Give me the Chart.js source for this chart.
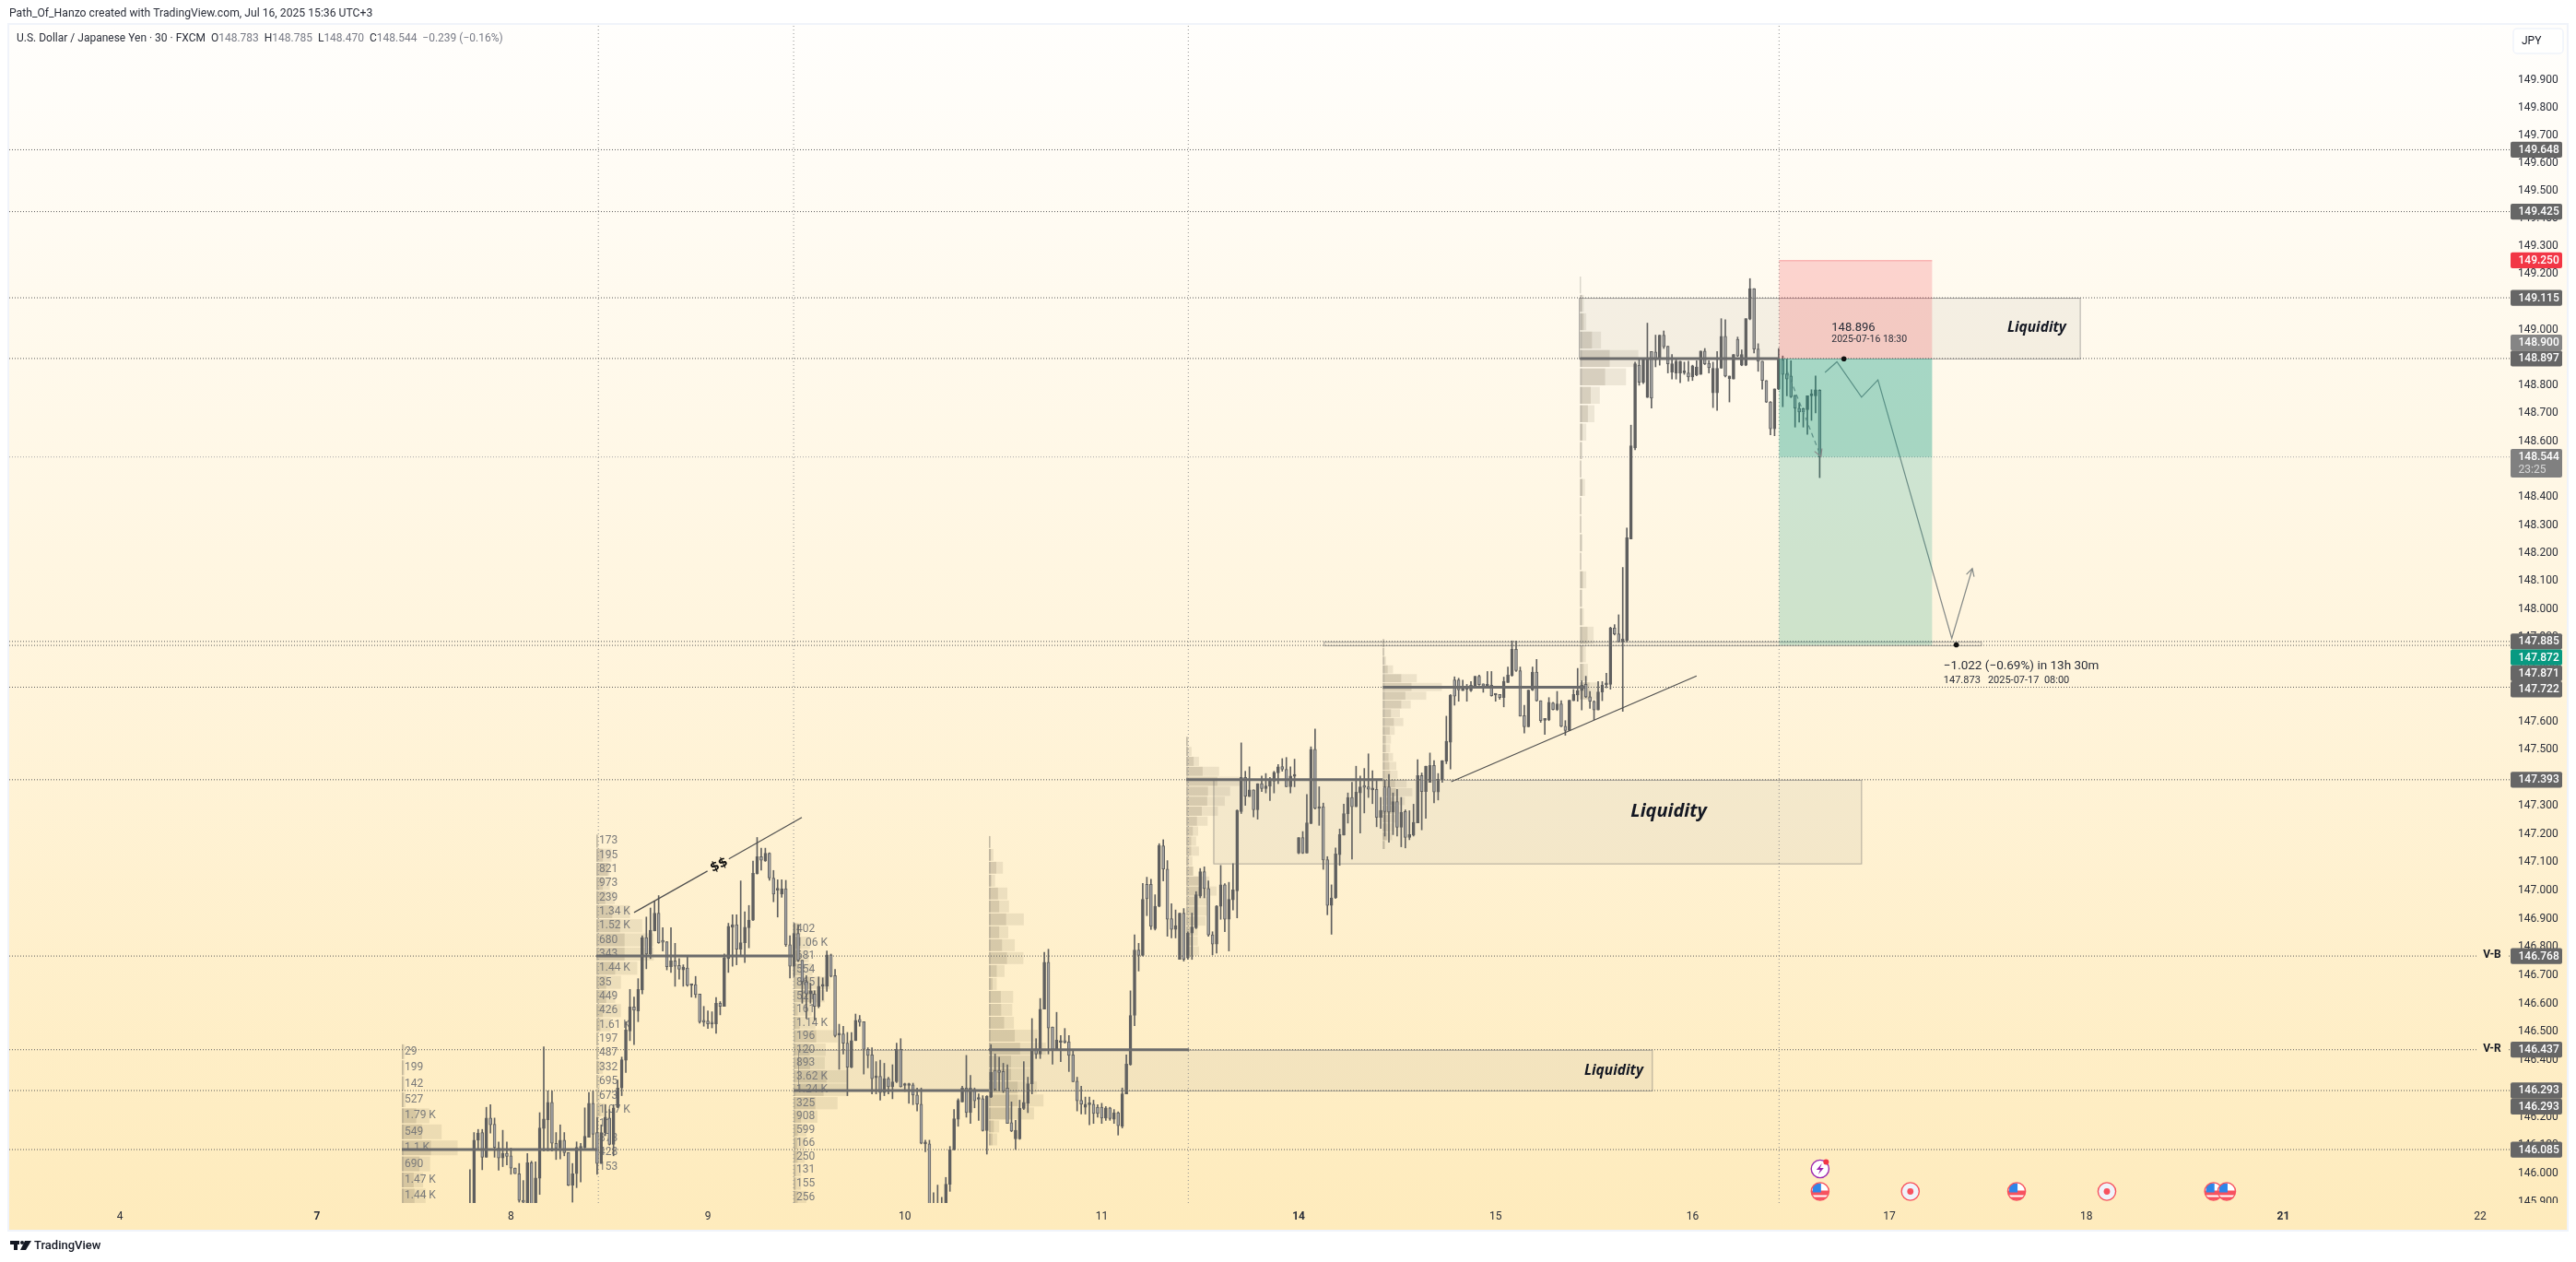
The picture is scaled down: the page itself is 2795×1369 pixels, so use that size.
<!DOCTYPE html>
<html>
<head>
<meta charset="utf-8">
<style>
    body { margin: 0; background: #fff; }
    canvas { display: block; }
</style>
<script src="https://cdn.jsdelivr.net/npm/chart.js@4.4.0/dist/chart.umd.min.js"></script>
</head>
<body>
<canvas id="chart" width="2795" height="1369"></canvas>
<script>
// x values are 30 minute bars counted from the "4" tick, 48 bars to a day
const firstBar = 86;
const dayLabels = ['4', '7', '8', '9', '10', '11', '14', '15', '16', '17', '18', '21', '22'];
const dayBars = [0.7, 48.7, 96, 144, 192, 240, 288, 336, 384, 432, 480, 528, 576];
const boldDays = ['7', '14', '21'];
const priceTicks = [145.9, 146, 146.1, 146.2, 146.3, 146.4, 146.5, 146.6, 146.7, 146.8, 146.9, 147, 147.1, 147.2, 147.3, 147.4, 147.5, 147.6, 147.7, 147.8, 147.9, 148, 148.1, 148.2, 148.3, 148.4, 148.5, 148.6, 148.7, 148.8, 148.9, 149, 149.1, 149.2, 149.3, 149.4, 149.5, 149.6, 149.7, 149.8, 149.9];

const opens = [
    145.86, 145.86, 146.118, 146.145, 146.058, 146.196, 146.174, 146.09, 146.055, 146.072,
    146.063, 146.02, 146.0, 145.906, 145.88, 146.039, 145.88, 145.984, 146.159, 146.19,
    146.251, 146.107, 146.09, 146.118, 146.074, 145.96, 146.0, 146.09, 146.093, 146.128,
    146.248, 146.145, 146.036, 146.145, 146.196, 146.103, 146.234, 146.302, 146.4, 146.503,
    146.588, 146.574, 146.648, 146.833, 146.775, 146.857, 146.92, 146.819, 146.819, 146.73,
    146.751, 146.735, 146.719, 146.726, 146.664, 146.667, 146.634, 146.538, 146.538, 146.53,
    146.528, 146.601, 146.59, 146.759, 146.87, 146.879, 146.792, 146.815, 146.868, 146.895,
    147.06, 147.12, 147.105, 147.132, 147.044, 147.001, 146.987, 147.006, 146.808, 146.732,
    146.848, 146.753, 146.677, 146.634, 146.634, 146.59, 146.661, 146.661, 146.772, 146.699,
    146.489, 146.493, 146.46, 146.375, 146.469, 146.544, 146.536, 146.438, 146.419, 146.338,
    146.343, 146.286, 146.335, 146.306, 146.324, 146.438, 146.311, 146.311, 146.313, 146.277,
    146.245, 146.105, 146.105, 145.88, 145.85, 145.87, 145.88, 145.963, 146.085, 146.192,
    146.253, 146.302, 146.215, 146.297, 146.262, 146.264, 146.152, 146.27, 146.364, 146.364,
    146.36, 146.302, 146.18, 146.123, 146.123, 146.23, 146.248, 146.317, 146.44, 146.422,
    146.58, 146.746, 146.517, 146.438, 146.463, 146.469, 146.465, 146.419, 146.326, 146.259,
    146.234, 146.243, 146.245, 146.234, 146.234, 146.196, 146.232, 146.192, 146.215, 146.167,
    146.281, 146.384, 146.558, 146.789, 146.77, 147.022, 147.022, 146.865, 146.944, 147.158,
    147.076, 146.9, 146.862, 146.756, 146.92, 146.761, 146.849, 146.868, 146.98, 147.067,
    147.007, 146.843, 146.81, 146.944, 147.02, 146.898, 146.967, 146.999, 147.28, 147.401,
    147.333, 147.357, 147.286, 147.379, 147.362, 147.37, 147.388, 147.417, 147.44, 147.43,
    147.368, 147.405, 147.133, 147.188, 147.133, 147.237, 147.501, 147.291, 147.297, 147.109,
    146.947, 146.974, 147.127, 147.196, 147.272, 147.33, 147.297, 147.346, 147.368, 147.368,
    147.357, 147.359, 147.259, 147.368, 147.368, 147.278, 147.315, 147.224, 147.28, 147.188,
    147.196, 147.24, 147.408, 147.351, 147.384, 147.444, 147.349, 147.393, 147.459, 147.526,
    147.748, 147.748, 147.71, 147.715, 147.71, 147.726, 147.761, 147.734, 147.726, 147.729,
    147.694, 147.696, 147.685, 147.739, 147.764, 147.857, 147.781, 147.621, 147.581, 147.712,
    147.776, 147.674, 147.604, 147.606, 147.666, 147.643, 147.663, 147.583, 147.568, 147.674,
    147.694, 147.71, 147.732, 147.688, 147.672, 147.641, 147.705, 147.731, 147.732, 147.933,
    147.912, 147.883, 147.888, 148.251, 148.576, 148.873, 148.812, 148.757, 148.922, 148.92,
    148.895, 148.981, 148.941, 148.848, 148.845, 148.845, 148.846, 148.845, 148.831, 148.838,
    148.84, 148.924, 148.88, 148.774, 148.774, 148.862, 148.977, 148.825, 148.823, 148.966,
    148.873, 148.873, 149.038, 149.148, 148.931, 148.887, 148.818, 148.741, 148.645, 148.787,
    148.893, 148.842, 148.834, 148.765, 148.719, 148.717, 148.713, 148.763, 148.763, 148.783
];
const highs = [
    146.014, 146.145, 146.156, 146.156, 146.234, 146.243, 146.196, 146.112, 146.153, 146.112,
    146.09, 146.02, 146.036, 145.976, 146.071, 146.044, 146.042, 146.215, 146.447, 146.292,
    146.292, 146.145, 146.172, 146.145, 146.074, 146.036, 146.112, 146.107, 146.232, 146.286,
    146.292, 146.199, 146.172, 146.243, 146.226, 146.243, 146.33, 146.411, 146.536, 146.65,
    146.623, 146.688, 146.84, 146.906, 146.938, 146.963, 146.982, 146.868, 146.819, 146.868,
    146.813, 146.759, 146.737, 146.767, 146.667, 146.696, 146.634, 146.59, 146.574, 146.571,
    146.621, 146.607, 146.775, 146.884, 146.914, 146.914, 147.034, 146.925, 146.947, 147.104,
    147.188, 147.15, 147.15, 147.134, 147.071, 147.038, 147.038, 147.036, 146.84, 146.884,
    146.879, 146.753, 146.699, 146.672, 146.645, 146.694, 146.691, 146.786, 146.775, 146.721,
    146.527, 146.52, 146.498, 146.498, 146.563, 146.558, 146.536, 146.444, 146.444, 146.395,
    146.4, 146.389, 146.34, 146.384, 146.46, 146.476, 146.319, 146.319, 146.319, 146.302,
    146.302, 146.118, 146.118, 145.933, 145.96, 145.917, 145.987, 146.096, 146.226, 146.264,
    146.308, 146.417, 146.346, 146.302, 146.281, 146.275, 146.275, 146.455, 146.422, 146.411,
    146.389, 146.384, 146.253, 146.188, 146.259, 146.395, 146.34, 146.547, 146.476, 146.618,
    146.781, 146.792, 146.517, 146.569, 146.487, 146.512, 146.487, 146.433, 146.34, 146.308,
    146.27, 146.27, 146.259, 146.243, 146.248, 146.237, 146.234, 146.226, 146.218, 146.302,
    146.419, 146.645, 146.843, 146.813, 147.025, 147.047, 147.04, 146.985, 147.166, 147.18,
    147.106, 146.953, 146.931, 146.92, 146.936, 146.854, 146.92, 146.996, 147.078, 147.084,
    147.034, 146.854, 146.947, 147.089, 147.024, 147.029, 147.095, 147.286, 147.524, 147.423,
    147.439, 147.357, 147.379, 147.406, 147.415, 147.401, 147.423, 147.447, 147.468, 147.472,
    147.439, 147.466, 147.188, 147.209, 147.341, 147.51, 147.573, 147.368, 147.31, 147.12,
    147.02, 147.151, 147.218, 147.306, 147.346, 147.384, 147.441, 147.406, 147.433, 147.485,
    147.425, 147.39, 147.33, 147.392, 147.412, 147.346, 147.359, 147.33, 147.286, 147.283,
    147.306, 147.464, 147.417, 147.441, 147.488, 147.461, 147.415, 147.461, 147.619, 147.696,
    147.759, 147.754, 147.747, 147.732, 147.742, 147.761, 147.765, 147.734, 147.778, 147.778,
    147.696, 147.696, 147.758, 147.794, 147.887, 147.887, 147.794, 147.658, 147.712, 147.794,
    147.821, 147.674, 147.608, 147.685, 147.668, 147.707, 147.674, 147.603, 147.676, 147.714,
    147.789, 147.745, 147.761, 147.707, 147.674, 147.742, 147.742, 147.772, 147.936, 147.945,
    147.98, 148.149, 148.29, 148.658, 148.884, 148.895, 148.895, 149.024, 148.922, 148.981,
    148.981, 148.996, 148.941, 148.911, 148.895, 148.887, 148.884, 148.887, 148.873, 148.889,
    148.924, 148.933, 148.889, 148.884, 148.922, 149.04, 149.036, 148.834, 148.911, 148.974,
    148.928, 149.04, 149.184, 149.148, 148.95, 148.887, 148.818, 148.743, 148.788, 148.933,
    148.906, 148.895, 148.889, 148.765, 148.738, 148.719, 148.763, 148.785, 148.834, 148.785
];
const lows = [
    145.84, 145.84, 146.085, 146.014, 146.058, 146.143, 146.058, 146.012, 146.025, 146.031,
    145.998, 146.0, 145.9, 145.88, 145.86, 145.86, 145.86, 145.927, 146.08, 146.08,
    146.08, 146.05, 146.052, 146.063, 145.958, 145.9, 145.951, 145.971, 146.09, 146.128,
    146.085, 145.998, 146.036, 146.134, 146.101, 146.063, 146.232, 146.275, 146.357, 146.469,
    146.455, 146.536, 146.634, 146.723, 146.759, 146.857, 146.813, 146.786, 146.719, 146.71,
    146.661, 146.686, 146.661, 146.661, 146.623, 146.621, 146.531, 146.52, 146.512, 146.514,
    146.495, 146.56, 146.59, 146.71, 146.732, 146.737, 146.77, 146.745, 146.797, 146.893,
    147.058, 147.072, 147.103, 147.036, 146.96, 146.906, 146.976, 146.802, 146.69, 146.695,
    146.748, 146.601, 146.547, 146.601, 146.542, 146.585, 146.612, 146.643, 146.694, 146.482,
    146.368, 146.422, 146.275, 146.373, 146.469, 146.52, 146.351, 146.373, 146.281, 146.281,
    146.259, 146.275, 146.281, 146.264, 146.321, 146.305, 146.29, 146.248, 146.243, 146.221,
    146.105, 146.077, 145.85, 145.83, 145.83, 145.85, 145.86, 145.938, 146.083, 146.167,
    146.253, 146.199, 146.177, 146.232, 146.188, 146.15, 146.069, 146.268, 146.292, 146.292,
    146.286, 146.177, 146.148, 146.085, 146.121, 146.226, 146.215, 146.281, 146.406, 146.406,
    146.58, 146.422, 146.386, 146.438, 146.395, 146.46, 146.36, 146.324, 146.221, 146.21,
    146.21, 146.172, 146.177, 146.199, 146.177, 146.188, 146.188, 146.177, 146.136, 146.161,
    146.281, 146.382, 146.522, 146.715, 146.768, 146.911, 146.862, 146.86, 146.942, 147.034,
    146.838, 146.832, 146.832, 146.756, 146.75, 146.756, 146.756, 146.865, 146.974, 146.974,
    146.838, 146.772, 146.778, 146.898, 146.854, 146.786, 146.931, 146.903, 147.273, 147.302,
    147.333, 147.261, 147.253, 147.351, 147.346, 147.319, 147.346, 147.379, 147.423, 147.368,
    147.346, 147.368, 147.13, 147.131, 147.133, 147.237, 147.289, 147.231, 147.075, 146.914,
    146.845, 146.972, 147.089, 147.196, 147.239, 147.111, 147.297, 147.204, 147.275, 147.33,
    147.308, 147.226, 147.22, 147.193, 147.171, 147.198, 147.193, 147.155, 147.151, 147.18,
    147.193, 147.24, 147.215, 147.256, 147.384, 147.311, 147.321, 147.384, 147.45, 147.431,
    147.658, 147.672, 147.71, 147.672, 147.707, 147.723, 147.729, 147.704, 147.726, 147.69,
    147.672, 147.679, 147.652, 147.739, 147.761, 147.778, 147.619, 147.559, 147.581, 147.71,
    147.672, 147.597, 147.554, 147.603, 147.641, 147.639, 147.581, 147.551, 147.567, 147.674,
    147.672, 147.641, 147.685, 147.647, 147.606, 147.641, 147.674, 147.72, 147.715, 147.908,
    147.883, 147.636, 147.883, 148.251, 148.57, 148.801, 148.807, 148.757, 148.719, 148.867,
    148.873, 148.933, 148.845, 148.823, 148.823, 148.81, 148.84, 148.816, 148.818, 148.835,
    148.84, 148.875, 148.845, 148.721, 148.711, 148.862, 148.831, 148.741, 148.823, 148.904,
    148.871, 148.871, 149.036, 148.917, 148.851, 148.787, 148.739, 148.623, 148.62, 148.785,
    148.724, 148.763, 148.757, 148.651, 148.669, 148.651, 148.625, 148.675, 148.702, 148.47
];
const closes = [
    145.88, 146.118, 146.143, 146.058, 146.196, 146.172, 146.093, 146.055, 146.072, 146.061,
    146.02, 146.0, 145.906, 145.9, 146.039, 145.88, 145.985, 146.161, 146.193, 146.251,
    146.107, 146.09, 146.118, 146.074, 145.96, 146.0, 146.093, 146.096, 146.132, 146.248,
    146.139, 146.036, 146.145, 146.199, 146.103, 146.232, 146.302, 146.402, 146.507, 146.588,
    146.576, 146.65, 146.833, 146.775, 146.859, 146.92, 146.815, 146.817, 146.73, 146.751,
    146.732, 146.721, 146.729, 146.664, 146.667, 146.632, 146.536, 146.534, 146.528, 146.528,
    146.601, 146.59, 146.761, 146.873, 146.879, 146.792, 146.815, 146.87, 146.895, 147.061,
    147.12, 147.107, 147.132, 147.044, 146.987, 147.003, 147.006, 146.808, 146.732, 146.848,
    146.753, 146.677, 146.634, 146.645, 146.59, 146.661, 146.667, 146.772, 146.696, 146.487,
    146.493, 146.46, 146.375, 146.469, 146.541, 146.534, 146.438, 146.417, 146.335, 146.343,
    146.286, 146.335, 146.306, 146.324, 146.438, 146.306, 146.313, 146.313, 146.277, 146.245,
    146.107, 146.107, 145.87, 145.85, 145.88, 145.89, 145.963, 146.085, 146.194, 146.259,
    146.302, 146.215, 146.302, 146.257, 146.264, 146.152, 146.273, 146.357, 146.297, 146.357,
    146.292, 146.177, 146.15, 146.153, 146.23, 146.251, 146.317, 146.438, 146.422, 146.58,
    146.746, 146.514, 146.438, 146.471, 146.469, 146.462, 146.417, 146.324, 146.257, 146.245,
    146.245, 146.245, 146.212, 146.212, 146.196, 146.232, 146.194, 146.215, 146.169, 146.281,
    146.386, 146.558, 146.789, 146.77, 146.969, 146.971, 146.873, 146.944, 147.16, 147.076,
    146.898, 146.862, 146.876, 146.92, 146.756, 146.849, 146.871, 146.985, 147.067, 147.007,
    146.843, 146.81, 146.945, 147.02, 146.898, 146.969, 147.002, 147.284, 147.401, 147.335,
    147.357, 147.286, 147.379, 147.362, 147.371, 147.388, 147.419, 147.439, 147.43, 147.368,
    147.406, 147.407, 147.188, 147.133, 147.24, 147.501, 147.291, 147.297, 147.108, 146.947,
    146.974, 147.13, 147.198, 147.273, 147.33, 147.297, 147.349, 147.368, 147.366, 147.359,
    147.362, 147.259, 147.284, 147.28, 147.278, 147.315, 147.224, 147.278, 147.188, 147.198,
    147.242, 147.408, 147.351, 147.441, 147.444, 147.349, 147.395, 147.461, 147.53, 147.694,
    147.69, 147.712, 147.714, 147.718, 147.729, 147.761, 147.731, 147.726, 147.732, 147.692,
    147.696, 147.685, 147.743, 147.765, 147.857, 147.781, 147.619, 147.581, 147.712, 147.776,
    147.674, 147.603, 147.606, 147.668, 147.643, 147.663, 147.583, 147.568, 147.676, 147.696,
    147.71, 147.729, 147.688, 147.672, 147.641, 147.705, 147.729, 147.733, 147.933, 147.912,
    147.884, 147.894, 148.255, 148.584, 148.878, 148.812, 148.893, 148.895, 148.755, 148.893,
    148.981, 148.939, 148.878, 148.878, 148.887, 148.887, 148.849, 148.831, 148.871, 148.867,
    148.924, 148.878, 148.864, 148.862, 148.862, 148.977, 148.834, 148.834, 148.911, 148.906,
    148.911, 149.04, 149.148, 148.931, 148.887, 148.818, 148.741, 148.645, 148.788, 148.895,
    148.84, 148.823, 148.76, 148.719, 148.705, 148.705, 148.763, 148.765, 148.785, 148.544
];

// horizontal levels and the tags on the price axis
const levelPrices = [149.648, 149.425, 149.115, 148.897, 147.885, 147.871, 147.722, 147.393, 146.768, 146.437, 146.293, 146.085];
const lastPrice = 148.544;
const lastPriceTimer = '23:25';
const tagPrices = [149.648, 149.425, 149.25, 149.115, 148.897, 148.9, 148.544, 147.885, 147.872, 147.871, 147.722, 147.393, 146.768, 146.437, 146.293, 146.293, 146.085];
const tagColors = ['#666', '#666', '#f23645', '#666', '#666', '#858585', '#808080', '#666', '#089981', '#666', '#666', '#666', '#666', '#666', '#666', '#666', '#666'];
const sessionLines = [117.3, 164.9, 261.1, 405.1];

// session volume profiles: row prices start at the top and step down one bin
const profileStarts = [69.4, 116.8, 164.9, 212.5, 260.6, 308.5, 356.6];
const profileTops = [146.43, 147.175, 146.862, 147.172, 147.529, 147.879, 149.161];
const profileSteps = [0.0565, 0.05, 0.0472, 0.0457, 0.0354, 0.0312, 0.066];
const pocPrices = [146.085, 146.768, 146.293, 146.437, 147.393, 147.722, 148.897];
const pocEnds = [117, 164.9, 212.5, 261.3, 308.5, 357.9, 405.1];
const profile0Total = [0.7, 0.7, 0.7, 0.9, 6.7, 9.7, 13.6, 6.9, 5.2, 5.8];
const profile0Up = [0.2, 0.2, 0.2, 0.3, 3.5, 4.9, 7.1, 4.3, 2.9, 3.1];
const profile0Text = ['29', '199', '142', '527', '1.79 K', '549', '1.1 K', '690', '1.47 K', '1.44 K'];
const profile1Total = [0.5, 3.7, 3.2, 3.3, 4.5, 8.2, 11.2, 14, 14, 10, 6, 4.6, 6, 3.5, 0.5, 0.5, 1.6, 0.9, 0.9, 2.4, 0.6, 0.6, 0.6, 0.6];
const profile1Up = [0.2, 1.6, 2.8, 1.6, 2.2, 3.9, 5.8, 6.9, 6.9, 4.6, 2.4, 2.4, 1.6, 1, 0.3, 0.3, 0.6, 0.3, 0.3, 1, 0.3, 0.3, 0.3, 0.3];
const profile1Text = ['173', '195', '821', '973', '239', '1.34 K', '1.52 K', '680', '343', '1.44 K', '35', '449', '426', '1.61 K', '197', '487', '332', '695', '673', '1.07 K', '11', '873', '428', '153'];
const profile2Total = [1.8, 4, 3.7, 4.6, 8.9, 7.6, 4.4, 5.3, 10.7, 7.8, 7.6, 13.3, 13.3, 10.7, 5.8, 3.1, 2.7, 2.7, 1.8, 1.8, 3.1];
const profile2Up = [1.2, 1.8, 1.8, 2.4, 4, 5.3, 1, 1.5, 5.5, 3.9, 4, 8, 7.3, 5.3, 1.8, 1, 0.9, 1, 0.5, 0.5, 1];
const profile2Text = ['402', '1.06 K', '681', '554', '865', '521', '161', '1.14 K', '196', '120', '893', '3.62 K', '1.24 K', '325', '908', '599', '166', '250', '131', '155', '256'];
const profile3Total = [0.4, 1.1, 3.4, 1.5, 4.5, 4.9, 8.5, 4.7, 6.3, 8.4, 3.8, 1.9, 5.9, 5.7, 6.1, 11.9, 13.9, 10.7, 10.7, 11.7, 13.3, 11, 2.5, 2];
const profile3Up = [0.2, 0.5, 1.8, 0.6, 2.2, 2.5, 4.2, 2.5, 3.2, 4.4, 1.9, 0.9, 2.9, 3, 3.7, 6.3, 7.6, 5.4, 5.4, 7, 7, 5.5, 1.2, 0.9];
const profile4Total = [0.5, 1.3, 3.1, 8, 13.5, 10.7, 9.4, 7.7, 5.2, 2.9, 2.4, 3.1, 1.5, 1.8, 5.6, 7.4, 5.2, 5, 4.7, 2.8, 2.8, 3.1];
const profile4Up = [0.2, 0.4, 1.8, 4, 7.6, 5.3, 5.1, 3.8, 2.6, 1.6, 1.2, 1.2, 0.6, 1.6, 3, 3.2, 2.5, 2.5, 2, 1.4, 1.4, 1.4];
const profile5Total = [0.4, 0.4, 0.8, 2.5, 8.3, 14.4, 10.6, 6.8, 4.2, 5, 2.9, 2, 1.8, 2.5, 3.3, 3.6, 5.8, 7.2, 5.4, 4, 3.2, 2.7, 2.3, 0.6];
const profile5Up = [0.2, 0.2, 0.3, 1.2, 4.5, 7, 5.5, 4.5, 2, 2.7, 1.7, 0.8, 0.8, 1.4, 1.6, 1.8, 3, 3.2, 2.6, 2, 1.6, 1.2, 1, 0.3];
const profile6Total = [0.2, 0.9, 1.5, 5.1, 14.2, 11.2, 4.8, 3.5, 1.5, 0.5, 0.3, 1.2, 0.3, 0.3, 0.5, 0.3, 1.5, 0.5, 0.9, 3.3, 1.4, 1.9, 4.7];
const profile6Up = [0.1, 0.4, 0.9, 2.9, 7.2, 6.1, 2.6, 1.9, 0.6, 0.2, 0.15, 0.6, 0.15, 0.15, 0.2, 0.15, 0.7, 0.2, 0.4, 1.8, 0.7, 0.9, 2.3];
const profileTotals = [profile0Total, profile1Total, profile2Total, profile3Total, profile4Total, profile5Total, profile6Total];
const profileUps = [profile0Up, profile1Up, profile2Up, profile3Up, profile4Up, profile5Up, profile6Up];
const profileTexts = [profile0Text, profile1Text, profile2Text];

// drawings, as [bar, price]
const trendA = [[126, 146.922], [143.9, 147.069]];
const trendB = [[149.1, 147.112], [166.9, 147.259]];
const trendC = [[325.2, 147.386], [385, 147.762]];
const forecastPath = [[416.3, 148.847], [419.2, 148.885], [425.2, 148.758], [429.2, 148.82], [447.2, 147.896], [452.2, 148.145]];
const dashedArrow = [[407.1, 148.851], [415.3, 148.545]];
const liquidityBoxes = [[356.3, 478.4, 149.115, 148.897], [267.2, 425.1, 147.393, 147.096], [166, 374.1, 146.437, 146.293], [294.1, 454.3, 147.885, 147.871]];
const shortStart = 405.1, shortEnd = 442.4;
const stopPrice = 149.25, entryPrice = 148.897, targetPrice = 147.872;
const eventBars = [415.1, 437.1, 463, 485, 511, 514.2];
const eventKinds = ['us', 'dot', 'us', 'dot', 'us', 'us'];

const fontFamily = 'Roboto, sans-serif';
const darkCandle = '#5f5f5f';
const lightCandle = '#a5a5a5';

const candleBars = opens.map((_, i) => firstBar + i);

function lineSet(points, color, dash, width, order) {
    return {
        type: 'line',
        data: points.map(p => ({ x: p[0], y: p[1] })),
        borderColor: color,
        borderDash: dash,
        borderWidth: width,
        pointRadius: 0,
        tension: 0,
        order: order
    };
}

const xMin = -26.3, xMax = 583.4, yMin = 145.897, yMax = 150.099;

const datasets = [
    {
        label: 'wicks',
        data: candleBars.map((x, i) => ({ x: x, y: [lows[i], highs[i]] })),
        backgroundColor: darkCandle,
        barThickness: 1,
        grouped: false,
        order: 3
    },
    {
        label: 'bodies',
        data: candleBars.map((x, i) => ({ x: x, y: [opens[i], closes[i]] })),
        backgroundColor: opens.map((o, i) => closes[i] < o ? lightCandle : darkCandle),
        borderColor: darkCandle,
        borderWidth: 1,
        borderSkipped: false,
        barThickness: 3,
        minBarLength: 2,
        grouped: false,
        order: 2
    }
];
levelPrices.forEach(p => datasets.push(lineSet([[xMin, p], [xMax, p]], '#5c5c5c', [1, 2], 1, 5)));
datasets.push(lineSet([[xMin, lastPrice], [xMax, lastPrice]], '#a8a8a8', [1, 2], 1, 5));
sessionLines.forEach(x => datasets.push(lineSet([[x, yMin], [x, yMax]], '#8f8f8f', [1, 3], 1, 5)));
pocPrices.forEach((p, i) => datasets.push(lineSet([[profileStarts[i], p], [pocEnds[i], p]], '#6b6b6b', [], 3, 1)));
[trendA, trendB, trendC].forEach(t => datasets.push(lineSet(t, '#4f4f4f', [], 1.2, 1)));
datasets.push(lineSet(forecastPath, '#858a88', [], 1.2, 1));
datasets.push(lineSet(dashedArrow, '#8a8a8a', [5, 4], 1.2, 1));

let panelFill = null;

function arrowHead(ctx, x0, y0, x1, y1, size) {
    const a = Math.atan2(y1 - y0, x1 - x0);
    ctx.beginPath();
    ctx.moveTo(x1 - size * Math.cos(a - 0.5), y1 - size * Math.sin(a - 0.5));
    ctx.lineTo(x1, y1);
    ctx.lineTo(x1 - size * Math.cos(a + 0.5), y1 - size * Math.sin(a + 0.5));
    ctx.stroke();
}

function drawText(ctx, text, x, y, font, color, align) {
    ctx.font = font;
    ctx.fillStyle = color;
    ctx.textAlign = align || 'left';
    ctx.textBaseline = 'middle';
    ctx.fillText(text, x, y);
}

function drawFlagIcon(ctx, x, y) {
    ctx.save();
    ctx.beginPath();
    ctx.arc(x, y, 9.6, 0, Math.PI * 2);
    ctx.fillStyle = '#fff';
    ctx.fill();
    ctx.clip();
    ctx.fillStyle = '#f7525f';
    ctx.fillRect(x - 10, y - 1, 20, 5);
    ctx.fillRect(x - 10, y + 6, 20, 4);
    ctx.fillStyle = '#2f86e8';
    ctx.fillRect(x - 8, y - 9, 9, 10);
    ctx.restore();
    ctx.beginPath();
    ctx.arc(x, y, 9.6, 0, Math.PI * 2);
    ctx.strokeStyle = '#f7525f';
    ctx.lineWidth = 1.4;
    ctx.stroke();
}

function drawDotIcon(ctx, x, y) {
    ctx.beginPath();
    ctx.arc(x, y, 9.6, 0, Math.PI * 2);
    ctx.fillStyle = '#f0f3fa';
    ctx.fill();
    ctx.strokeStyle = '#f7525f';
    ctx.lineWidth = 1.4;
    ctx.stroke();
    ctx.beginPath();
    ctx.arc(x, y, 3.4, 0, Math.PI * 2);
    ctx.fillStyle = '#f7525f';
    ctx.fill();
}

function drawBoltIcon(ctx, x, y) {
    ctx.beginPath();
    ctx.arc(x, y, 9.6, 0, Math.PI * 2);
    ctx.fillStyle = '#fff';
    ctx.fill();
    ctx.strokeStyle = '#9c27b0';
    ctx.lineWidth = 1.4;
    ctx.stroke();
    ctx.beginPath();
    ctx.moveTo(x + 2, y - 6);
    ctx.lineTo(x - 4, y + 1);
    ctx.lineTo(x, y + 1);
    ctx.lineTo(x - 2, y + 6);
    ctx.lineTo(x + 4, y - 1);
    ctx.lineTo(x, y - 1);
    ctx.closePath();
    ctx.fillStyle = '#9c27b0';
    ctx.fill();
    ctx.beginPath();
    ctx.arc(x + 6.5, y - 7.5, 3, 0, Math.PI * 2);
    ctx.fillStyle = '#f23645';
    ctx.fill();
}

const tvPlugin = {
    id: 'tvPlugin',
    beforeDraw(chart) {
        const ctx = chart.ctx;
        const area = chart.chartArea;
        const right = chart.scales.y.right;
        const bottom = chart.scales.x.bottom;
        ctx.save();
        ctx.fillStyle = '#fff';
        ctx.fillRect(0, 0, chart.width, chart.height);
        ctx.fillStyle = '#f0f3fa';
        ctx.fillRect(area.left - 2, area.top - 2, right - area.left + 4, bottom - area.top + 4);
        panelFill = ctx.createLinearGradient(0, area.top, 0, bottom);
        panelFill.addColorStop(0, '#fffefc');
        panelFill.addColorStop(0.5, '#fff5de');
        panelFill.addColorStop(1, '#feebbc');
        ctx.fillStyle = panelFill;
        ctx.fillRect(area.left, area.top, right - area.left, bottom - area.top);
        ctx.restore();
    },
    beforeDatasetsDraw(chart) {
        const ctx = chart.ctx;
        const area = chart.chartArea;
        const sx = chart.scales.x;
        const sy = chart.scales.y;
        ctx.save();
        ctx.beginPath();
        ctx.rect(area.left, area.top, area.right - area.left, area.bottom - area.top);
        ctx.clip();
        profileTotals.forEach((totals, n) => {
            const x0 = sx.getPixelForValue(profileStarts[n]);
            const step = profileSteps[n];
            totals.forEach((total, r) => {
                const price = profileTops[n] - step * r;
                const top = sy.getPixelForValue(price + step * 0.46);
                const h = sy.getPixelForValue(price - step * 0.46) - top;
                ctx.fillStyle = 'rgba(115,105,85,0.13)';
                ctx.fillRect(x0, top, sx.getPixelForValue(profileStarts[n] + total) - x0, h);
                ctx.fillStyle = 'rgba(115,105,85,0.18)';
                ctx.fillRect(x0, top, sx.getPixelForValue(profileStarts[n] + profileUps[n][r]) - x0, h);
                ctx.fillStyle = 'rgba(115,115,115,0.22)';
                ctx.fillRect(x0, top, Math.min(2, sx.getPixelForValue(profileStarts[n] + total) - x0), h);
                if (profileTexts[n]) {
                    drawText(ctx, profileTexts[n][r], x0 + 3, top + h / 2, '12px ' + fontFamily, '#7a7a7a');
                }
            });
        });
        ctx.restore();
    },
    afterDatasetsDraw(chart) {
        const ctx = chart.ctx;
        const area = chart.chartArea;
        const sx = chart.scales.x;
        const sy = chart.scales.y;
        ctx.save();
        ctx.beginPath();
        ctx.rect(area.left, area.top, area.right - area.left, area.bottom - area.top);
        ctx.clip();

        // liquidity zones
        liquidityBoxes.forEach(b => {
            const x = sx.getPixelForValue(b[0]);
            const y = sy.getPixelForValue(b[2]);
            const w = sx.getPixelForValue(b[1]) - x;
            const h = sy.getPixelForValue(b[3]) - y;
            ctx.fillStyle = 'rgba(130,130,120,0.09)';
            ctx.fillRect(x, y, w, h);
            ctx.strokeStyle = 'rgba(110,110,110,0.55)';
            ctx.lineWidth = 1;
            ctx.strokeRect(x + 0.5, y + 0.5, w, h);
        });

        // short position tool
        const x0 = sx.getPixelForValue(shortStart);
        const w = sx.getPixelForValue(shortEnd) - x0;
        const yStop = sy.getPixelForValue(stopPrice);
        const yEntry = sy.getPixelForValue(entryPrice);
        const yLast = sy.getPixelForValue(lastPrice);
        const yTarget = sy.getPixelForValue(targetPrice);
        ctx.fillStyle = 'rgba(242,54,69,0.2)';
        ctx.fillRect(x0, yStop, w, yEntry - yStop);
        ctx.fillStyle = 'rgba(8,153,129,0.2)';
        ctx.fillRect(x0, yEntry, w, yTarget - yEntry);
        ctx.fillRect(x0, yEntry, w, yLast - yEntry);
        ctx.strokeStyle = 'rgba(242,54,69,0.35)';
        ctx.beginPath();
        ctx.moveTo(x0, yStop + 0.5);
        ctx.lineTo(x0 + w, yStop + 0.5);
        ctx.stroke();

        // arrow heads on the drawn paths
        ctx.strokeStyle = '#858a88';
        ctx.lineWidth = 1.2;
        const n = forecastPath.length - 1;
        arrowHead(ctx, sx.getPixelForValue(forecastPath[n - 1][0]), sy.getPixelForValue(forecastPath[n - 1][1]),
            sx.getPixelForValue(forecastPath[n][0]), sy.getPixelForValue(forecastPath[n][1]), 9);
        ctx.strokeStyle = '#8a8a8a';
        arrowHead(ctx, sx.getPixelForValue(dashedArrow[0][0]), sy.getPixelForValue(dashedArrow[0][1]),
            sx.getPixelForValue(dashedArrow[1][0]), sy.getPixelForValue(dashedArrow[1][1]), 9);

        // forecast end points
        ctx.fillStyle = '#111';
        ctx.beginPath();
        ctx.arc(sx.getPixelForValue(420.9), sy.getPixelForValue(148.896), 2.8, 0, Math.PI * 2);
        ctx.fill();
        ctx.beginPath();
        ctx.arc(sx.getPixelForValue(448.3), sy.getPixelForValue(147.873), 2.8, 0, Math.PI * 2);
        ctx.fill();

        // texts on the chart
        const liquidityFont = '700 italic 15.5px "Open Sans", sans-serif';
        drawText(ctx, 'Liquidity', sx.getPixelForValue(475.1), sy.getPixelForValue(149.006), liquidityFont, '#131722', 'right');
        drawText(ctx, 'Liquidity', sx.getPixelForValue(378.2), sy.getPixelForValue(147.28), '700 italic 20px "Open Sans", sans-serif', '#131722', 'center');
        drawText(ctx, 'Liquidity', sx.getPixelForValue(372), sy.getPixelForValue(146.362), liquidityFont, '#131722', 'right');
        drawText(ctx, '148.896', sx.getPixelForValue(417.9), sy.getPixelForValue(149.006), '13px ' + fontFamily, '#2a2e39');
        drawText(ctx, '2025-07-16 18:30', sx.getPixelForValue(417.9), sy.getPixelForValue(148.965), '10.5px ' + fontFamily, '#2a2e39');
        drawText(ctx, '\u22121.022 (\u22120.69%) in 13h 30m', sx.getPixelForValue(445.2), sy.getPixelForValue(147.796), '13.5px ' + fontFamily, '#2a2e39');
        drawText(ctx, '147.873', sx.getPixelForValue(445.2), sy.getPixelForValue(147.747), '11px ' + fontFamily, '#2a2e39');
        drawText(ctx, '2025-07-17  08:00', sx.getPixelForValue(456), sy.getPixelForValue(147.747), '11px ' + fontFamily, '#2a2e39');

        ctx.save();
        ctx.translate(sx.getPixelForValue(146.7), sy.getPixelForValue(147.09));
        ctx.rotate(-0.45);
        drawText(ctx, '$$', 0, 0, '700 14px "DejaVu Sans", sans-serif', '#111', 'center');
        ctx.restore();

        // events along the bottom
        eventBars.forEach((bar, i) => {
            const x = sx.getPixelForValue(bar);
            if (eventKinds[i] === 'us') {
                drawFlagIcon(ctx, x, area.bottom - 12.5);
            } else {
                drawDotIcon(ctx, x, area.bottom - 12.5);
            }
        });
        drawBoltIcon(ctx, sx.getPixelForValue(eventBars[0]), area.bottom - 37);
        ctx.restore();
    },
    afterDraw(chart) {
        const ctx = chart.ctx;
        const area = chart.chartArea;
        const sy = chart.scales.y;
        const sx = chart.scales.x;
        const axisX = sy.left;
        ctx.save();

        // axis labels stop at the end of the pane
        ctx.fillStyle = panelFill;
        ctx.fillRect(axisX, area.bottom, sy.right - axisX, sx.bottom - area.bottom);

        // V-B / V-R level names
        [[146.768, 'V-B'], [146.437, 'V-R']].forEach(item => {
            const y = sy.getPixelForValue(item[0]);
            ctx.fillStyle = panelFill;
            ctx.fillRect(axisX - 37, y - 8, 35, 16);
            drawText(ctx, item[1], axisX - 20, y - 1, '700 12px ' + fontFamily, '#131722', 'center');
        });

        // price tags, pushed down when they would overlap
        const tagH = 17.3;
        let lastY = -100;
        tagPrices.forEach((price, i) => {
            let y = sy.getPixelForValue(price);
            const raised = price === 148.9;
            if (raised) {
                y = lastY - tagH;
            } else if (y < lastY + tagH) {
                y = lastY + tagH;
            }
            const isLast = price === lastPrice;
            ctx.fillStyle = tagColors[i];
            ctx.beginPath();
            ctx.roundRect(axisX, y - tagH / 2, 56, isLast ? 31 : tagH, 2);
            ctx.fill();
            drawText(ctx, price.toFixed(3), axisX + 8.5, y + 0.5, '500 12px ' + fontFamily, '#fff');
            if (isLast) {
                drawText(ctx, lastPriceTimer, axisX + 8.5, y + 14.5, '12px ' + fontFamily, '#d8d8d8');
            }
            if (!raised) {
                lastY = isLast ? y + 13.5 : y;
            }
        });

        // currency button
        ctx.fillStyle = 'rgba(255,255,255,0.7)';
        ctx.strokeStyle = '#f0f3fa';
        ctx.lineWidth = 1.5;
        ctx.beginPath();
        ctx.roundRect(axisX + 3, 31, 54, 27, 4);
        ctx.fill();
        ctx.stroke();
        drawText(ctx, 'JPY', axisX + 12, 44.5, '12px ' + fontFamily, '#131722');

        // header, legend, footer
        drawText(ctx, 'Path_Of_Hanzo created with TradingView.com, Jul 16, 2025 15:36 UTC+3', 10, 14.5, '12.2px ' + fontFamily, '#2a2e39');
        let x = 18;
        const legend = [['U.S. Dollar / Japanese Yen \u00b7 30 \u00b7 FXCM  ', '#2a2e39'], ['O', '#2a2e39'], ['148.783  ', '#787b86'], ['H', '#2a2e39'], ['148.785  ', '#787b86'], ['L', '#2a2e39'], ['148.470  ', '#787b86'], ['C', '#2a2e39'], ['148.544  ', '#787b86'], ['\u22120.239 (\u22120.16%)', '#787b86']];
        legend.forEach(part => {
            drawText(ctx, part[0], x, 42, '12px ' + fontFamily, part[1]);
            x += ctx.measureText(part[0]).width;
        });
        ctx.fillStyle = '#131722';
        ctx.fillRect(11, 1346, 10, 4);
        ctx.fillRect(15, 1346, 4, 10);
        ctx.beginPath();
        ctx.arc(24, 1348, 2, 0, Math.PI * 2);
        ctx.fill();
        ctx.beginPath();
        ctx.moveTo(27, 1346);
        ctx.lineTo(34, 1346);
        ctx.lineTo(28, 1356);
        ctx.lineTo(22, 1356);
        ctx.closePath();
        ctx.fill();
        drawText(ctx, 'TradingView', 37, 1351.5, '500 13px ' + fontFamily, '#131722');
        ctx.restore();
    }
};

new Chart(document.getElementById('chart'), {
    type: 'bar',
    data: { datasets: datasets },
    plugins: [tvPlugin],
    options: {
        responsive: false,
        animation: false,
        devicePixelRatio: 1,
        layout: { padding: { left: 10, right: 10, top: 27, bottom: 35 } },
        plugins: { legend: { display: false }, tooltip: { enabled: false } },
        scales: {
            x: {
                type: 'linear',
                offset: false,
                min: xMin,
                max: xMax,
                grid: { display: false, drawTicks: false },
                border: { display: false },
                afterBuildTicks: scale => {
                    scale.ticks = dayBars.map(v => ({ value: v }));
                },
                afterFit: scale => { scale.height = 29; },
                ticks: {
                    autoSkip: false,
                    maxRotation: 0,
                    padding: 8,
                    color: '#2a2e39',
                    font: ctx => ({
                        family: fontFamily,
                        size: 12,
                        weight: ctx.tick && boldDays.includes(dayLabels[dayBars.indexOf(ctx.tick.value)]) ? '700' : '400'
                    }),
                    callback: value => dayLabels[dayBars.indexOf(value)]
                }
            },
            y: {
                type: 'logarithmic',
                position: 'right',
                min: yMin,
                max: yMax,
                grid: { display: false, drawTicks: false },
                border: { display: false },
                afterBuildTicks: scale => {
                    scale.ticks = priceTicks.map(v => ({ value: v }));
                },
                afterFit: scale => { scale.width = 61; },
                ticks: {
                    autoSkip: false,
                    padding: 8,
                    color: '#2a2e39',
                    font: { family: fontFamily, size: 12 },
                    callback: value => value.toFixed(3)
                }
            }
        }
    }
});
</script>
</body>
</html>
